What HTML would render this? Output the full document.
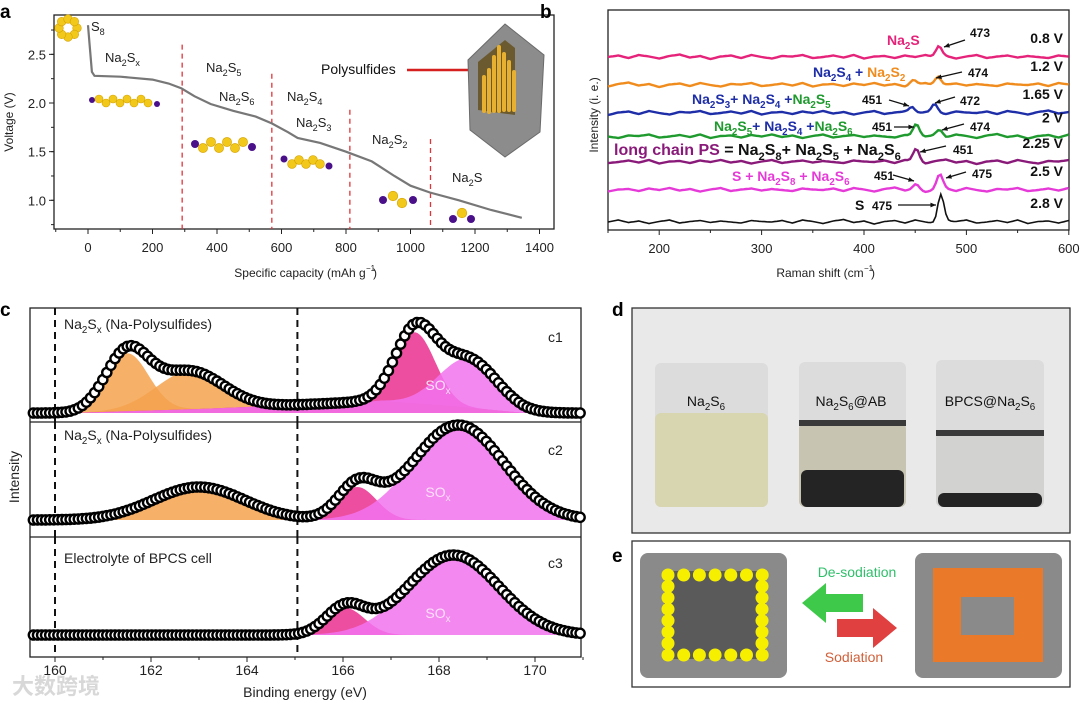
<!DOCTYPE html>
<html><head><meta charset="utf-8"><style>
html,body{margin:0;padding:0;background:#fff;}
svg{display:block;font-family:"Liberation Sans","Noto Sans CJK SC",sans-serif;}
</style></head><body>
<svg id="fig" width="1080" height="702" viewBox="0 0 1080 702" xmlns="http://www.w3.org/2000/svg">
<rect width="1080" height="702" fill="#fff"/>
<g id="pa"></g>
<g id="pb"></g>
<g id="pc"></g>
<g id="pd"></g>
<g id="pe"></g>
</svg>
<script>
// ---------- Panel a data ----------
const aCapacity = [0,5,12,20,100,200,250,290,330,380,450,520,570,620,650,720,800,880,950,1000,1060,1150,1250,1345];
const aVoltage  = [2.80,2.60,2.32,2.28,2.27,2.24,2.20,2.15,2.07,1.99,1.92,1.86,1.79,1.70,1.64,1.59,1.50,1.40,1.25,1.15,1.08,1.00,0.90,0.82];
const aXTicks = [0,200,400,600,800,1000,1200,1400];
const aYTicks = [1.0,1.5,2.0,2.5];
const aDividerCap = [292,570,812,1062];
const aDividerTop = [2.60,2.30,1.93,1.63];
// ---------- Panel b data ----------
const bXTicks = [200,300,400,500,600];
const bVoltLabels = ["0.8 V","1.2 V","1.65 V","2 V","2.25 V","2.5 V","2.8 V"];
const bOffsets = [57,85,113,136.5,162,190,222];
const bColors = ["#e6237a","#f08c1e","#1e2ea8","#1f9a2e","#8a1a7a","#e63ad8","#111"];
const bNoise = [0,1.5,-1,2,0.5,-1.5,1,2.5,-0.5,1,-2,0.5,1.5,-1,2,0,-1.5,1,0.5,2,-1,0,1.5,-0.5,2,-1.5,0.5,1,-1,1.5,0,2,-0.5,1,-1.5,0.5,2,-1,0.5,1.5,-0.5,1,0,-1,1.5,0.5];
const bPeakPos = [[473],[448,472],[447,469],[451,474],[451],[451,474],[475]];
const bPeakHt  = [[11],[5,9],[6,9],[12,6],[13],[5,15],[28]];
// ---------- Panel c data ----------
const cXTicks = [160,162,164,166,168,170];
const cBase = [413,520,635];
const cCompCenter = [[161.5,162.8,167.5,168.6],[163.0,166.3,168.4],[166.05,168.3]];
const cCompHeight = [[58,38,71,49],[33,33,95],[27,80]];
const cCompSigma  = [[0.45,0.7,0.42,0.6],[0.95,0.4,0.95],[0.4,0.95]];
const cCompColor  = [["#f5a24e","#f5a24e","#ea2f8f","#f273ef"],["#f5a24e","#ea2f8f","#f273ef"],["#ea2f8f","#f273ef"]];
const c1BgE = [159.5,160.3,163,165,166.8,168,169.8,171];
const c1BgH = [0,0,4,8,12,8,0,0];

const NS="http://www.w3.org/2000/svg";
function mk(parent,tag,attrs){const e=document.createElementNS(NS,tag);for(const k in attrs)e.setAttribute(k,attrs[k]);parent.appendChild(e);return e;}
// text with subscripts "{2}" and colour switches "[#hex]"
function txt(parent,x,y,str,size,fill,anchor,weight,name){
  const t=mk(parent,'text',{x:x,y:y,'font-size':size,fill:fill||'#222','text-anchor':anchor||'start','font-weight':weight||'normal'});
  
  
  let col=fill||'#222';
  const parts=str.split(/(\{[^}]*\}|\[[^\]]*\])/);
  parts.forEach(p=>{if(!p)return;
    if(p[0]==='['){col=p.slice(1,-1);return;}
    if(p[0]==='{'){const s=mk(t,'tspan',{'font-size':size*0.7,dy:size*0.3,fill:col});s.textContent=p.slice(1,-1);const r=mk(t,'tspan',{dy:-size*0.3});r.textContent='\u200b';}
    else{const s=mk(t,'tspan',{fill:col});s.textContent=p;}
  });
  return t;
}
function balls(parent,pts,r,name){
  const g=mk(parent,'g',{});
  
  
  pts.forEach((p,i)=>{mk(g,'circle',{cx:p[0],cy:p[1],r:p[2]||r,fill:p[3]||'#f2c81a',stroke:p[3]?'none':'#d4a200','stroke-width':0.6});});
}

// ================= PANEL A =================
(function(){
const g=document.getElementById('pa');
const L=54,R=554,T=15,B=229;
const xa=c=>88+c*0.3225, ya=v=>200.3-(v-1.0)*97.3;
txt(g,0,18,'a',19,'#000','start','bold','panel-a-letter');
const box=mk(g,'rect',{x:L,y:T,width:R-L,height:B-T,fill:'none',stroke:'#222','stroke-width':1.3});


aXTicks.forEach(t=>{
  const l=mk(g,'line',{x1:xa(t),x2:xa(t),y1:B,y2:B+5,stroke:'#222'});
  
  
  txt(g,xa(t),252,String(t),13,'#222','middle','normal','x-tick-label-a');
});
for(let c=-100;c<=1500;c+=100){const x=xa(c);if(x>L&&x<R){const l=mk(g,'line',{x1:x,x2:x,y1:B,y2:B+3,stroke:'#222'});}}
aYTicks.forEach(t=>{
  const l=mk(g,'line',{x1:L-5,x2:L,y1:ya(t),y2:ya(t),stroke:'#222'});
  
  
  txt(g,L-8,ya(t)+5,t.toFixed(1),13,'#222','end','normal','y-tick-label-a');
});
for(let v=0.75;v<=2.85;v+=0.25){const l=mk(g,'line',{x1:L-3,x2:L,y1:ya(v),y2:ya(v),stroke:'#222'});}
const yt=txt(g,0,0,'Voltage (V)',12,'#222','middle','normal','y-axis-title-a');
yt.setAttribute('transform','translate(13,122) rotate(-90)');
txt(g,300,277,'Specific capacity (mAh g',12,'#222','middle','normal','x-axis-title-a');
txt(g,366,271,'\u22121',8,'#222','start','normal','x-axis-title-sup');
txt(g,373,277,')',12,'#222','start','normal','x-axis-title-close');
aDividerCap.forEach((c,i)=>{
  const l=mk(g,'line',{x1:xa(c),x2:xa(c),y1:ya(aDividerTop[i]),y2:B,stroke:'#e0343a','stroke-width':1.3,'stroke-dasharray':'5,4'});
  
  
});
const p=mk(g,'path',{d:aCapacity.map((c,i)=>(i?'L':'M')+xa(c).toFixed(1)+','+ya(aVoltage[i]).toFixed(1)).join(''),fill:'none',stroke:'#777','stroke-width':2.2});


txt(g,91,31,'S{8}',13,'#222','start','normal','s8-label');
txt(g,105,62,'Na{2}S{x}',13,'#222','start','normal','na2sx-label');
txt(g,206,72,'Na{2}S{5}',13,'#222','start','normal','na2s5-label');
txt(g,219,101,'Na{2}S{6}',13,'#222','start','normal','na2s6-label');
txt(g,287,101,'Na{2}S{4}',13,'#222','start','normal','na2s4-label');
txt(g,296,127,'Na{2}S{3}',13,'#222','start','normal','na2s3-label');
txt(g,372,144,'Na{2}S{2}',13,'#222','start','normal','na2s2-label');
txt(g,452,182,'Na{2}S',13,'#222','start','normal','na2s-label');
txt(g,321,74,'Polysulfides',14,'#111','start','normal','polysulfides-label');
const ar=mk(g,'line',{x1:407,y1:70,x2:480,y2:70,stroke:'#d62020','stroke-width':2.5});


const ah=mk(g,'polygon',{points:'480,65 490,70 480,75',fill:'#d62020'});


const hex=mk(g,'polygon',{points:'505,24 544,55 540,132 505,157 470,130 468,60',fill:'#8c8c8c',stroke:'#6a6a6a'});


const cut=mk(g,'polygon',{points:'478,62 505,40 515,48 515,115 478,110',fill:'#6b5a30'});


[482,487,492,497,502,507,512].forEach((x,i)=>{const r=mk(g,'rect',{x:x,y:[75,68,55,45,52,60,70][i],width:4,height:[38,46,58,68,60,52,42][i],rx:2,fill:'#e8b030'});});
const ring=[];for(let k=0;k<8;k++){const a=k*Math.PI/4;ring.push([68+9*Math.cos(a),28+9*Math.sin(a),4.3]);}
balls(g,ring,4,'s8-ring');
const ch1=[[92,100,3,'#4a108a']];for(let k=0;k<8;k++)ch1.push([99+k*7,100+(k%2?3:-1),4]);ch1.push([157,104,3,'#4a108a']);
balls(g,ch1,4,'na2sx-chain');
const ch2=[[195,144,4,'#4a108a']];for(let k=0;k<6;k++)ch2.push([203+k*8,146+(k%2?-4:2),4.6]);ch2.push([252,147,4,'#4a108a']);
balls(g,ch2,4,'na2s6-chain');
const ch3=[[284,159,3.5,'#4a108a']];for(let k=0;k<5;k++)ch3.push([292+k*7,163+(k%2?-3:1),4.4]);ch3.push([329,166,3.5,'#4a108a']);
balls(g,ch3,4,'na2s4-chain');
balls(g,[[383,200,4,'#4a108a'],[393,196,4.8],[402,203,4.8],[413,200,4,'#4a108a']],4,'na2s2-molecule');
balls(g,[[453,219,4,'#4a108a'],[462,213,4.8],[471,219,4,'#4a108a']],4,'na2s-molecule');
})();

// ================= PANEL B =================
(function(){
const g=document.getElementById('pb');
const L=608,R=1069,T=10,B=230;
const xb=v=>608+(v-150)*1.024;
txt(g,540,18,'b',19,'#000','start','bold','panel-b-letter');
const box=mk(g,'rect',{x:L,y:T,width:R-L,height:B-T,fill:'none',stroke:'#222','stroke-width':1.3});


for(let v=150;v<=600;v+=50){const l=mk(g,'line',{x1:xb(v),x2:xb(v),y1:B,y2:B+(v%100?3:5),stroke:'#222'});}
bXTicks.forEach(t=>txt(g,xb(t),253,String(t),13,'#222','middle','normal','x-tick-label-b'));
txt(g,820,277,'Raman shift (cm',12,'#222','middle','normal','x-axis-title-b');
txt(g,864,271,'\u22121',8,'#222','start','normal','x-axis-title-b-sup');
txt(g,871,277,')',12,'#222','start','normal','x-axis-title-b-close');
const yt=txt(g,0,0,'Intensity (i. e.)',12,'#222','middle','normal','y-axis-title-b');
yt.setAttribute('transform','translate(598,115) rotate(-90)');
bOffsets.forEach((off,s)=>{
  let d='';
  for(let v=150;v<=600;v+=2.5){
    const i=Math.min(bNoise.length-1,Math.floor((v-150)/10));
    const f=((v-150)%10)/10;
    const j=(i+s*5)%bNoise.length, j2=(i+1+s*5)%bNoise.length;
    let y=bNoise[j]*(1-f)+bNoise[j2]*f;
    bPeakPos[s].forEach((c,k)=>{y+=bPeakHt[s][k]*Math.exp(-((v-c)*(v-c))/(2*9));});
    d+=(d?'L':'M')+xb(v).toFixed(1)+','+(off-y).toFixed(1);
  }
  const p=mk(g,'path',{d:d,fill:'none',stroke:bColors[s],'stroke-width':s===6?1.6:2.4});
  
  
  txt(g,1063,off-14,bVoltLabels[s],14,'#111','end','bold','voltage-label');
});
function arrow(x1,y1,x2,y2){
  const l=mk(g,'line',{x1:x1,y1:y1,x2:x2,y2:y2,stroke:'#111','stroke-width':1.3});
  
  
  const a=Math.atan2(y2-y1,x2-x1),h=6;
  const hd=mk(g,'polygon',{points:`${x2},${y2} ${x2-h*Math.cos(a-0.4)},${y2-h*Math.sin(a-0.4)} ${x2-h*Math.cos(a+0.4)},${y2-h*Math.sin(a+0.4)}`,fill:'#111'});
  
  
}
txt(g,887,45,'Na{2}S',14,'#e6237a','start','bold','na2s-annotation');
txt(g,970,37,'473',12,'#111','start','bold','peak-473');arrow(965,40,944,47);
txt(g,813,77,'Na{2}S{4} + [#f08c1e]Na{2}S{2}',14,'#1e2ea8','start','bold','annotation-12v');
txt(g,968,77,'474',12,'#111','start','bold','peak-474-a');arrow(962,72,936,78);
txt(g,692,104,'Na{2}S{3}+ Na{2}S{4} +[#1f9a2e]Na{2}S{5}',14,'#1e2ea8','start','bold','annotation-165v');
txt(g,862,104,'451',12,'#111','start','bold','peak-451-a');arrow(889,100,909,106);
txt(g,960,105,'472',12,'#111','start','bold','peak-472');arrow(955,97,935,103);
txt(g,714,131,'Na{2}S{5}[#1e2ea8]+ Na{2}S{4} +[#1f9a2e]Na{2}S{6}',14,'#1f9a2e','start','bold','annotation-2v');
txt(g,872,131,'451',12,'#111','start','bold','peak-451-b');arrow(894,127,914,127);
txt(g,970,131,'474',12,'#111','start','bold','peak-474-b');arrow(964,124,942,130);
txt(g,614,155,'long chain PS [#111]= Na{2}S{8}+ Na{2}S{5} + Na{2}S{6}',16,'#8a1a7a','start','bold','long-chain-ps-label');
txt(g,953,154,'451',12,'#111','start','bold','peak-451-c');arrow(946,146,920,152);
txt(g,732,181,'S + Na{2}S{8} + Na{2}S{6}',14,'#e63ad8','start','bold','annotation-25v');
txt(g,874,180,'451',12,'#111','start','bold','peak-451-d');arrow(893,175,914,181);
txt(g,972,178,'475',12,'#111','start','bold','peak-475-a');arrow(966,172,946,178);
txt(g,855,210,'S',14,'#111','start','bold','s-annotation');
txt(g,872,210,'475',12,'#111','start','bold','peak-475-b');arrow(898,205,936,205);
})();

// ================= PANEL C =================
(function(){
const g=document.getElementById('pc');
const L=30,R=581,T=308,B=657;
const xc=e=>55+(e-160)*48;
const tops=[308,422,537], bots=[422,537,657];
txt(g,0,316,'c',19,'#000','start','bold','panel-c-letter');
const box=mk(g,'rect',{x:L,y:T,width:R-L,height:B-T,fill:'none',stroke:'#222','stroke-width':1.3});


[422,537].forEach(y=>{const l=mk(g,'line',{x1:L,x2:R,y1:y,y2:y,stroke:'#222','stroke-width':1.3});});
for(let e=160;e<=171;e+=1){const l=mk(g,'line',{x1:xc(e),x2:xc(e),y1:B,y2:B+(e%2?3:5),stroke:'#222'});}
cXTicks.forEach(t=>txt(g,xc(t),675,String(t),14,'#222','middle','normal','x-tick-label-c'));
txt(g,305,697,'Binding energy (eV)',14,'#222','middle','normal','x-axis-title-c');
const yt=txt(g,0,0,'Intensity',14,'#222','middle','normal','y-axis-title-c');
yt.setAttribute('transform','translate(19,477) rotate(-90)');
const bgAt=(e)=>{for(let i=0;i<c1BgE.length-1;i++){if(e>=c1BgE[i]&&e<=c1BgE[i+1]){const f=(e-c1BgE[i])/(c1BgE[i+1]-c1BgE[i]);return c1BgH[i]*(1-f)+c1BgH[i+1]*f;}}return 0;};
const gauss=(e,c,h,s)=>h*Math.exp(-((e-c)*(e-c))/(2*s*s));
const e0=159.5,e1=170.95;
for(let p=0;p<3;p++){
  const base=cBase[p];
  const bg=e=>p===0?bgAt(e):0;
  if(p===0){
    let d='M'+xc(e0)+','+base;
    for(let e=e0;e<=e1;e+=0.05)d+='L'+xc(e).toFixed(1)+','+(base-bg(e)).toFixed(1);
    d+='L'+xc(e1)+','+base+'Z';
    const f=mk(g,'path',{d:d,fill:'#7a2bd6'});
    
    
  }
  cCompCenter[p].forEach((c,k)=>{
    let d='M'+xc(e0)+','+base;
    for(let e=e0;e<=e1;e+=0.05)d+='L'+xc(e).toFixed(1)+','+(base-bg(e)-gauss(e,c,cCompHeight[p][k],cCompSigma[p][k])).toFixed(1);
    d+='L'+xc(e1)+','+base+'Z';
    const f=mk(g,'path',{d:d,fill:cCompColor[p][k],'fill-opacity':0.85});
    
    
  });
  [160,165.05].forEach(e=>{
    const l=mk(g,'line',{x1:xc(e),x2:xc(e),y1:tops[p],y2:bots[p],stroke:'#111','stroke-width':2,'stroke-dasharray':'7,5'});
    
    
  });
  const mg=mk(g,'g',{});
  
  
  for(let e=e0+0.05;e<=e1;e+=0.085){
    let y=bg(e);cCompCenter[p].forEach((c,k)=>{y+=gauss(e,c,cCompHeight[p][k],cCompSigma[p][k]);});
    mk(mg,'circle',{cx:xc(e).toFixed(1),cy:(base-y).toFixed(1),r:4.6,fill:'#fff',stroke:'#000','stroke-width':2.4});
  }
  txt(g,438,[390,497,618][p],'SO{x}',14,'#fbe0f6','middle','normal','sox-label');
  txt(g,548,[342,455,568][p],'c'+(p+1),14,'#222','start','normal','subpanel-label');
}
txt(g,64,329,'Na{2}S{x} (Na-Polysulfides)',14,'#222','start','normal','c1-title');
txt(g,64,440,'Na{2}S{x} (Na-Polysulfides)',14,'#222','start','normal','c2-title');
txt(g,64,563,'Electrolyte of BPCS cell',14,'#222','start','normal','c3-title');
txt(g,12,694,'\u5927\u6570\u8de8\u5883',22,'#d8d8d8','start','bold','watermark');
})();

// ================= PANEL D =================
(function(){
const g=document.getElementById('pd');
txt(g,612,316,'d',19,'#000','start','bold','panel-d-letter');
const box=mk(g,'rect',{x:632,y:308,width:438,height:225,fill:'#e9e9e9',stroke:'#333','stroke-width':1.3});


const beakers=[
 {x:655,w:113,top:363,liq:413,band:null,sed:null,liqc:'#d8d6b0',label:'Na{2}S{6}',cx:706,name:'beaker-na2s6'},
 {x:799,w:107,top:362,liq:423,band:423,sed:470,liqc:'#c8c4b2',label:'Na{2}S{6}@AB',cx:851,name:'beaker-na2s6-ab'},
 {x:936,w:108,top:360,liq:433,band:433,sed:493,liqc:'#d2d2d0',label:'BPCS@Na{2}S{6}',cx:990,name:'beaker-bpcs'}];
beakers.forEach(b=>{
  const gg=mk(g,'g',{});
  
  
  mk(gg,'rect',{x:b.x,y:b.top,width:b.w,height:507-b.top,rx:6,fill:'#dcdcdc'});
  mk(gg,'rect',{x:b.x,y:b.liq,width:b.w,height:507-b.liq,rx:6,fill:b.liqc});
  if(b.band)mk(gg,'rect',{x:b.x,y:b.band-3,width:b.w,height:6,fill:'#3a3a3a'});
  if(b.sed)mk(gg,'rect',{x:b.x+2,y:b.sed,width:b.w-4,height:507-b.sed,rx:6,fill:'#242424'});
  txt(g,b.cx,406,b.label,14,'#111','middle','normal',b.name+'-label');
});
})();

// ================= PANEL E =================
(function(){
const g=document.getElementById('pe');
txt(g,612,562,'e',19,'#000','start','bold','panel-e-letter');
const box=mk(g,'rect',{x:632,y:541,width:438,height:146,fill:'#fff',stroke:'#333','stroke-width':1.3});


const ls=mk(g,'rect',{x:640,y:553,width:147,height:125,rx:8,fill:'#8a8a8a'});


const li=mk(g,'rect',{x:664,y:571,width:102,height:88,fill:'#5a5a5a'});


const yg=mk(g,'g',{});


for(let k=0;k<7;k++){mk(yg,'circle',{cx:668+k*15.7,cy:575,r:6.5,fill:'#f7ef00'});mk(yg,'circle',{cx:668+k*15.7,cy:655,r:6.5,fill:'#f7ef00'});}
for(let k=1;k<7;k++){mk(yg,'circle',{cx:668,cy:575+k*11.4,r:6.5,fill:'#f7ef00'});mk(yg,'circle',{cx:762,cy:575+k*11.4,r:6.5,fill:'#f7ef00'});}
const rs=mk(g,'rect',{x:915,y:553,width:147,height:125,rx:8,fill:'#8a8a8a'});


const os=mk(g,'path',{d:'M933,568H1043V662H933Z M961,597V635H1014V597Z','fill-rule':'evenodd',fill:'#ea7a2a'});


const ga=mk(g,'polygon',{points:'802,603 826,583 826,594 863,594 863,612 826,612 826,623',fill:'#3ec94a'});


const ra=mk(g,'polygon',{points:'897,628 873,608 873,619 837,619 837,637 873,637 873,648',fill:'#e04040'});


txt(g,857,577,'De-sodiation',14,'#2fbf6a','middle','normal','desodiation-label');
txt(g,854,662,'Sodiation',14,'#d0603a','middle','normal','sodiation-label');
})();
</script>
</body></html>
